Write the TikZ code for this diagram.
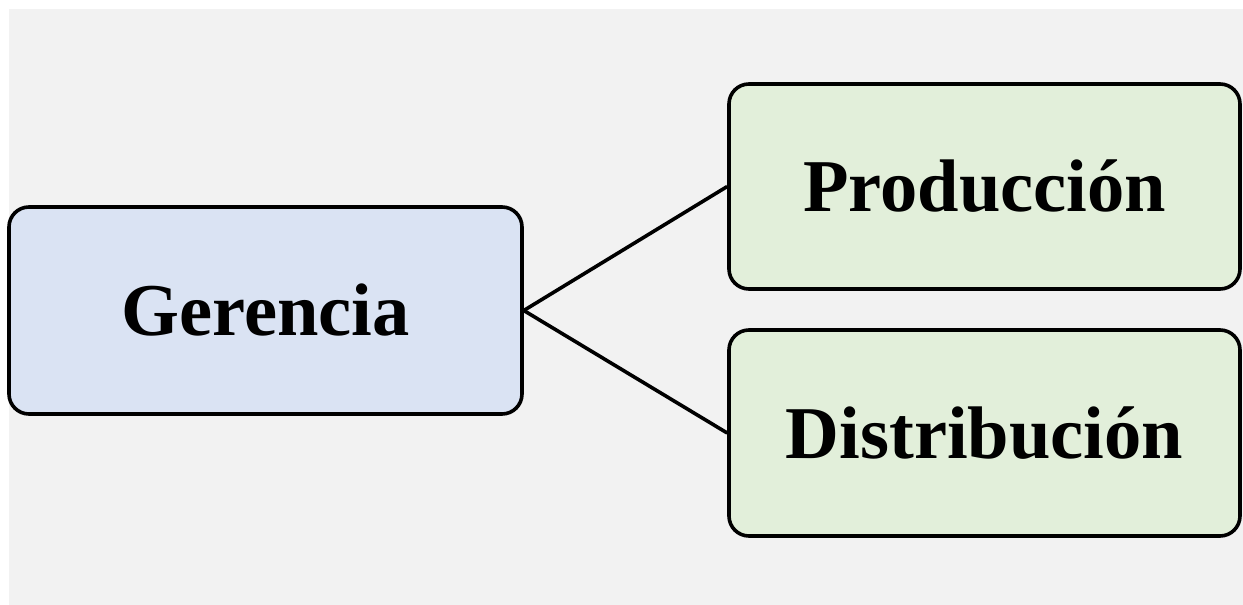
\documentclass[tikz,border=0pt]{standalone}
\usepackage{fontspec}
\setmainfont{Liberation Serif}
\definecolor{bggray}{HTML}{F2F2F2}
\definecolor{blueFill}{HTML}{DAE3F3}
\definecolor{greenFill}{HTML}{E2EFDA}
\begin{document}
\begin{tikzpicture}[x=1pt,y=-1pt,
  box/.style={draw=black, line width=3.6pt, rounded corners=20pt, inner sep=0pt,
    font=\fontsize{74.5}{80}\selectfont\bfseries},
  link/.style={draw=black, line width=3.6pt}]
\useasboundingbox (0,0) rectangle (1243,605);
\fill[white] (0,0) rectangle (1243,605);
\fill[bggray] (9,9) rectangle (1243,605);
\node[box, fill=blueFill, minimum width=513pt, minimum height=207pt] (ger) at (265.5,310.5) {Gerencia};
\node[box, fill=greenFill, minimum width=511pt, minimum height=205pt] (prod) at (984.5,186.5) {Producción};
\node[box, fill=greenFill, minimum width=511pt, minimum height=206pt] (dist) at (984.5,433) {Distribución};
\draw[link] (ger.east) -- (prod.west);
\draw[link] (ger.east) -- (dist.west);
\end{tikzpicture}
\end{document}
